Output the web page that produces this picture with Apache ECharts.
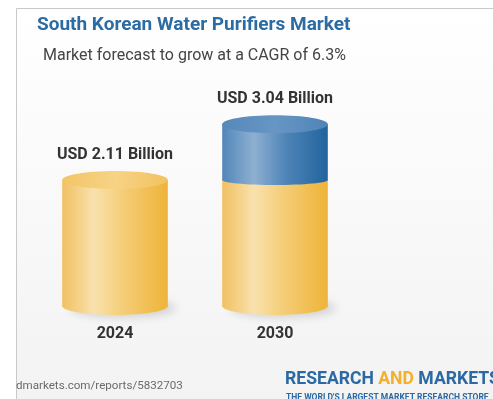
<!DOCTYPE html>
<html>
<head>
<meta charset="utf-8">
<title>South Korean Water Purifiers Market</title>
<script src="https://cdn.jsdelivr.net/npm/echarts@6/dist/echarts.min.js"></script>
<style>
  html, body { margin: 0; padding: 0; background: #ffffff; }
  #chart { width: 493px; height: 399px; }
</style>
</head>
<body>
<div id="chart"></div>
<script>
// Chart data
const years = ['2024', '2030'];
const marketValues = [2.11, 3.04]; // USD billion
const valueLabels = ['USD 2.11 Billion', 'USD 3.04 Billion'];
const baseValue = marketValues[0];

// Segments: yellow up to the 2024 value, blue for the growth above it
const baseSegments = years.map((y, i) => [i, 0, Math.min(marketValues[i], baseValue)]);
const growthSegments = years
    .map((y, i) => [i, baseValue, marketValues[i]])
    .filter((d) => d[2] > d[1]);

const FONT = 'Roboto, "Noto Sans", sans-serif';

const yellow = {
    body: [
        { offset: 0, color: '#f1c062' },
        { offset: 0.3, color: '#f9e1ad' },
        { offset: 0.55, color: '#f5cf7c' },
        { offset: 1, color: '#efb338' },
    ],
    top: [
        { offset: 0, color: '#f3c566' },
        { offset: 0.5, color: '#f7d386' },
        { offset: 1, color: '#f2c25e' },
    ],
};

const blue = {
    body: [
        { offset: 0, color: '#5186b9' },
        { offset: 0.3, color: '#8eb0d1' },
        { offset: 0.6, color: '#4f85b8' },
        { offset: 1, color: '#22639d' },
    ],
    top: [
        { offset: 0, color: '#5688bb' },
        { offset: 0.5, color: '#6796c4' },
        { offset: 1, color: '#4f84b8' },
    ],
};

// Draws one cylinder segment between value[1] and value[2]
function cylinderRenderer(palette, isBase) {
    return function (params, api) {
        const cat = api.value(0);
        const low = api.value(1);
        const high = api.value(2);
        const bottomPt = api.coord([cat, low]);
        const topPt = api.coord([cat, high]);
        const bandW = api.size([1, 0])[0];
        const cx = bottomPt[0];
        const rx = bandW * 0.33;
        const ry = 9;
        const isTop = high === marketValues[cat];
        const bodyFill = new echarts.graphic.LinearGradient(0, 0, 1, 0, palette.body);
        const topFill = new echarts.graphic.LinearGradient(0, 0, 1, 0, palette.top);

        const children = [
            {
                type: 'ellipse',
                shape: { cx: cx, cy: bottomPt[1], rx: rx, ry: isBase ? ry : 5 },
                style: isBase
                    ? { fill: bodyFill, shadowBlur: 10, shadowColor: 'rgba(0,0,0,0.16)', shadowOffsetX: 8, shadowOffsetY: 2 }
                    : { fill: bodyFill },
            },
            {
                type: 'rect',
                shape: { x: cx - rx, y: topPt[1], width: rx * 2, height: bottomPt[1] - topPt[1] },
                style: { fill: bodyFill },
            },
        ];

        // top face and value label only on the top of the whole cylinder
        if (isTop) {
            children.push({
                type: 'ellipse',
                shape: { cx: cx, cy: topPt[1], rx: rx, ry: ry },
                style: { fill: topFill },
            });
            children.push({
                type: 'text',
                x: cx,
                y: topPt[1] - 25,
                style: {
                    text: valueLabels[cat],
                    fill: '#333333',
                    font: 'bold 16px ' + FONT,
                    align: 'center',
                    verticalAlign: 'middle',
                },
            });
        }
        return { type: 'group', children: children };
    };
}

const chart = echarts.init(document.getElementById('chart'));

const option = {
    animation: false,
    title: [
        {
            text: 'South Korean Water Purifiers Market',
            left: 32,
            top: 11,
            textStyle: { fontFamily: FONT, fontSize: 19, fontWeight: 'bold', color: '#2b6ca3' },
        },
        {
            text: 'Market forecast to grow at a CAGR of 6.3%',
            left: 38,
            top: 43,
            textStyle: { fontFamily: FONT, fontSize: 16, fontWeight: 'normal', color: '#444444' },
        },
    ],
    graphic: [
        {
            type: 'rect',
            z: -10,
            shape: { x: 16.5, y: 8.5, width: 500, height: 420 },
            style: {
                fill: new echarts.graphic.LinearGradient(0, 0, 0, 1, [
                    { offset: 0, color: '#ffffff' },
                    { offset: 1, color: '#f2f2f2' },
                ]),
                stroke: '#c9c9c9',
                lineWidth: 1,
            },
        },
        {
            type: 'text',
            left: 16,
            top: 380,
            style: {
                text: 'dmarkets.com/reports/5832703',
                fill: '#6a6a6a',
                font: '11.6px ' + FONT,
            },
        },
        {
            type: 'text',
            left: 285,
            top: 371,
            style: {
                text: '{b|RESEARCH }{a|AND}{b| MARKETS}',
                rich: {
                    b: { fill: '#2a69a3', font: 'bold 17.6px ' + FONT },
                    a: { fill: '#f4b02a', font: 'bold 17.6px ' + FONT },
                },
            },
        },
        {
            type: 'text',
            left: 286,
            top: 393,
            style: {
                text: "THE WORLD'S LARGEST MARKET RESEARCH STORE",
                fill: '#2a69a3',
                font: 'bold 8.5px ' + FONT,
            },
        },
    ],
    grid: { left: 35, right: 138, top: 67, bottom: 93 },
    xAxis: {
        type: 'category',
        data: years,
        axisLine: { show: false },
        axisTick: { show: false },
        axisLabel: {
            margin: 20,
            color: '#333333',
            fontFamily: FONT,
            fontSize: 16,
            fontWeight: 'bold',
        },
    },
    yAxis: {
        type: 'value',
        min: 0,
        max: 4,
        show: false,
        splitLine: { show: false },
    },
    series: [
        {
            type: 'custom',
            renderItem: cylinderRenderer(yellow, true),
            encode: { x: 0, y: [1, 2] },
            data: baseSegments,
        },
        {
            type: 'custom',
            renderItem: cylinderRenderer(blue, false),
            encode: { x: 0, y: [1, 2] },
            data: growthSegments,
        },
    ],
};

chart.setOption(option);
</script>
</body>
</html>
